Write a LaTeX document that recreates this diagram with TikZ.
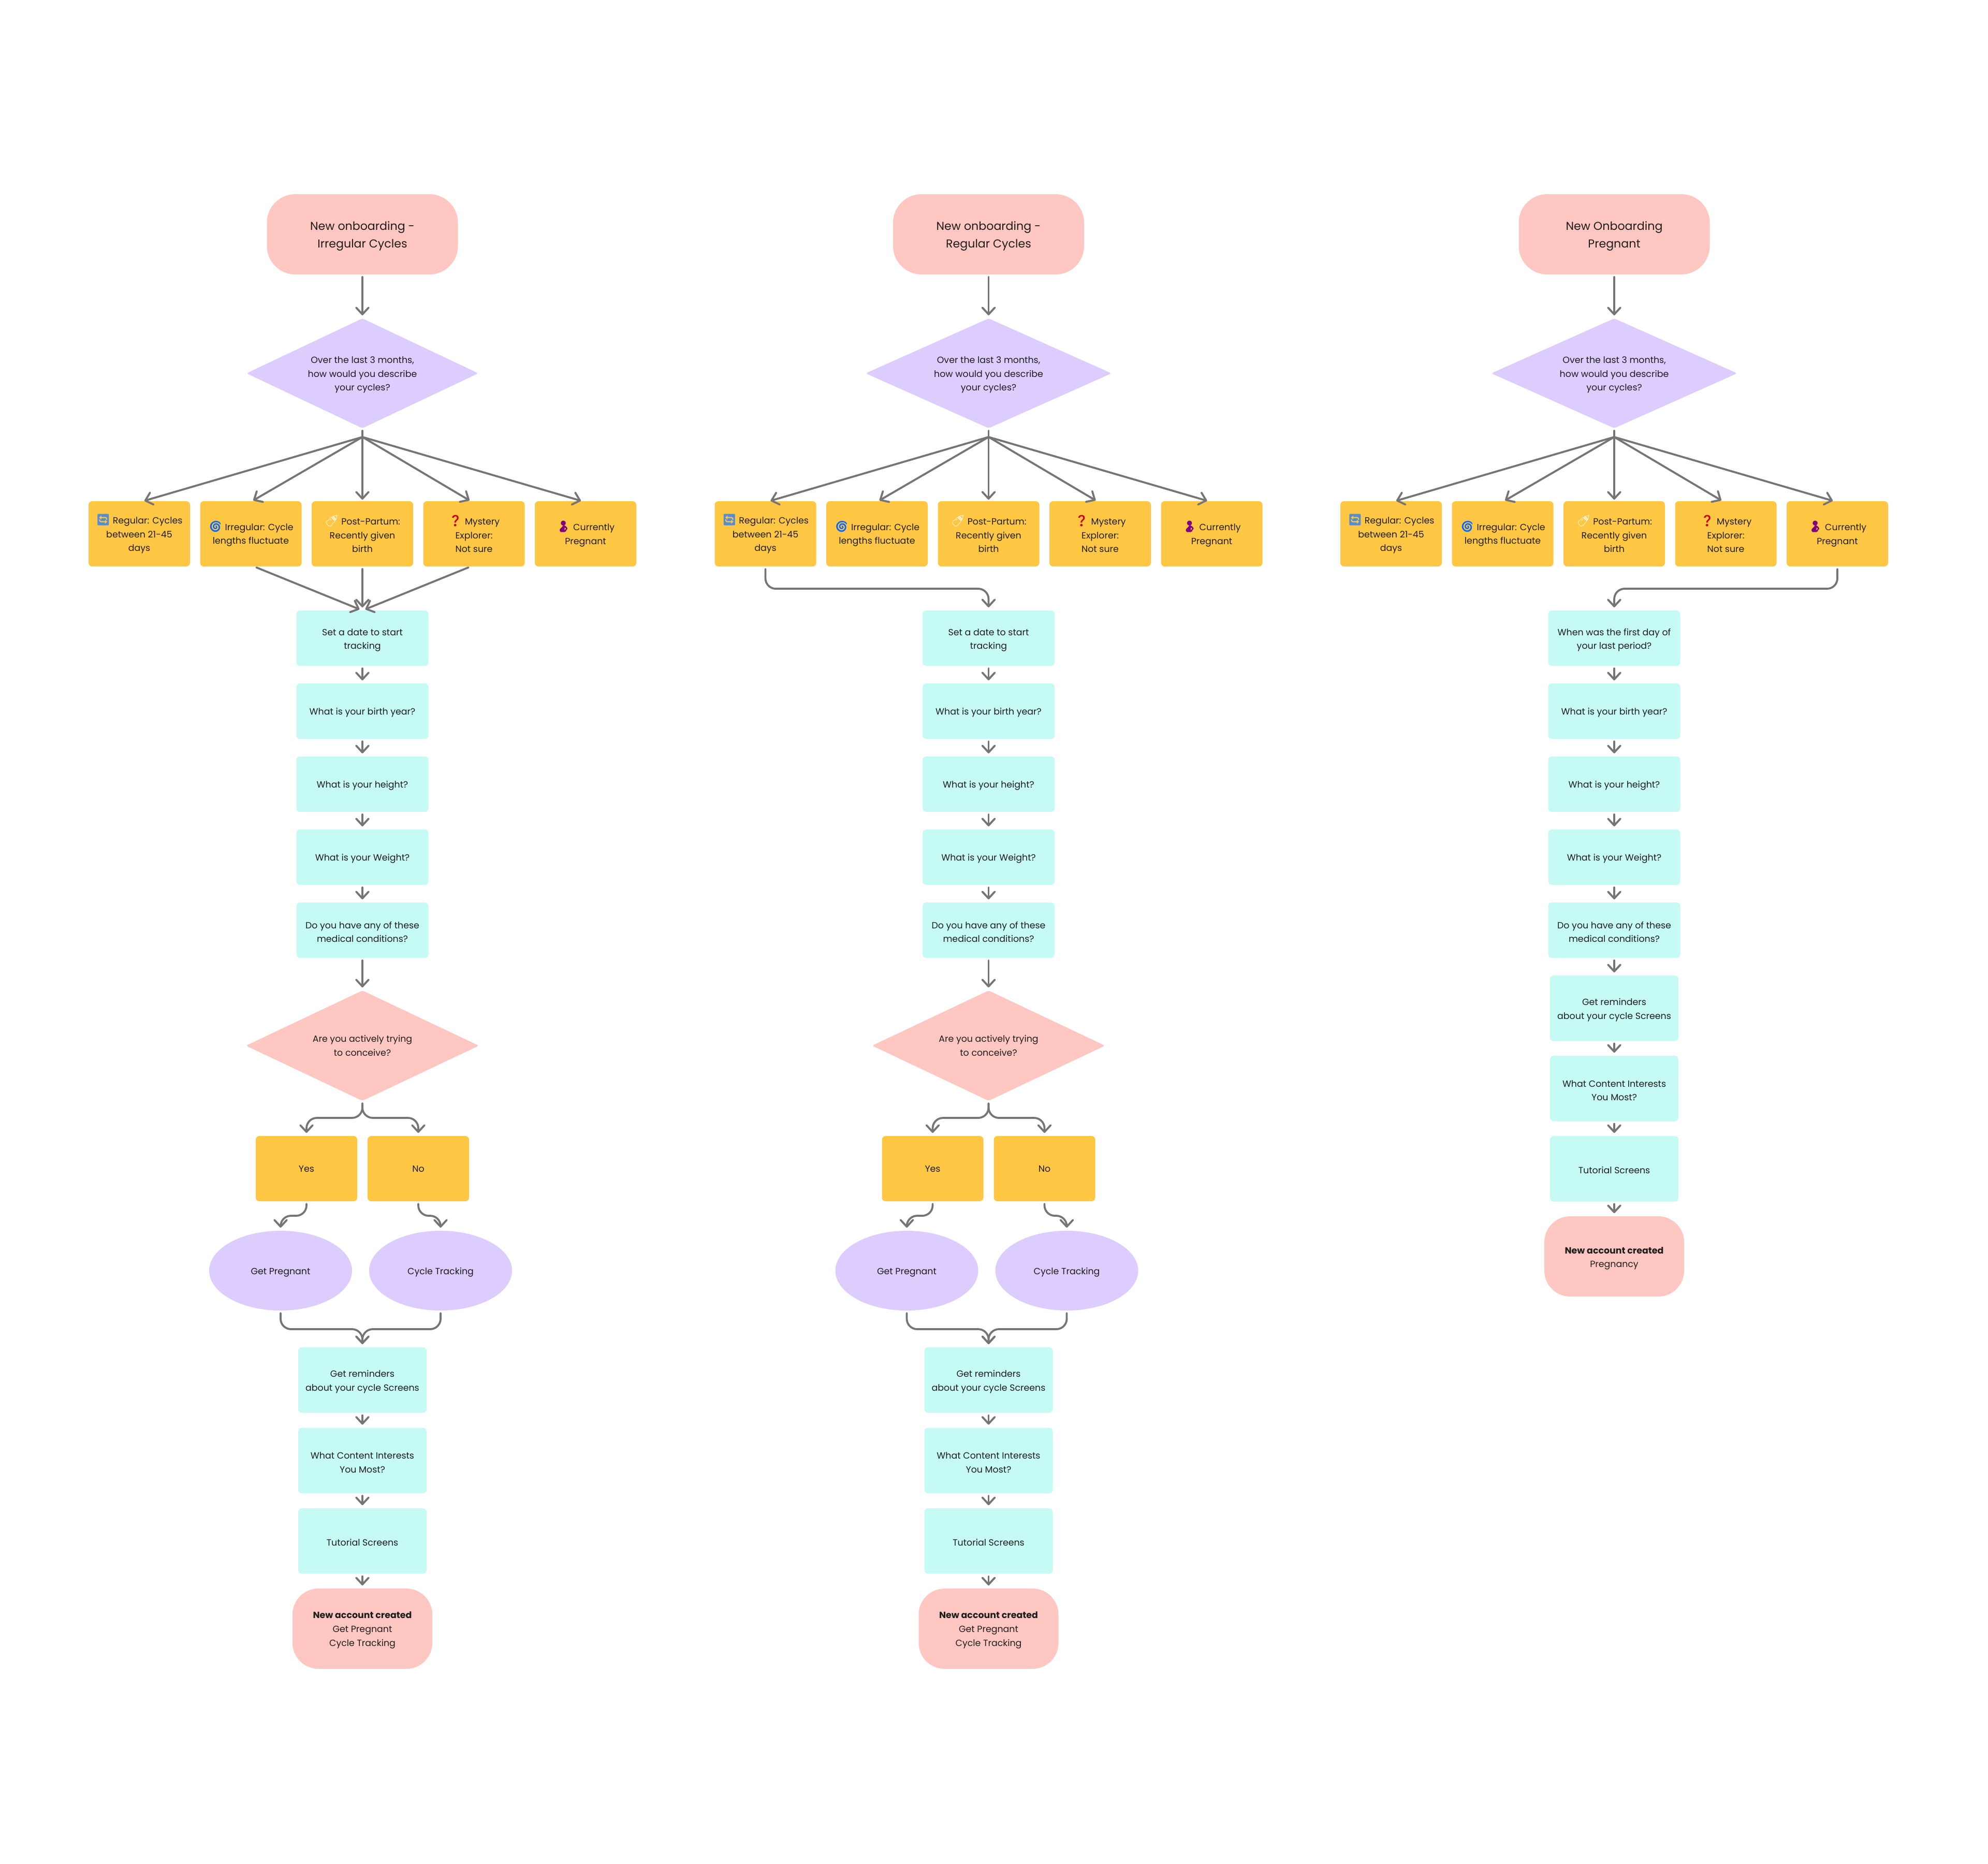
\documentclass[tikz,border=0pt]{standalone}
\usepackage{fontspec}
\setmainfont{Poppins}
\newfontfamily\emojifont[Scale=1.25]{Noto Emoji}
\usetikzlibrary{arrows.meta,positioning,shapes.geometric}
\definecolor{pinkfill}{HTML}{FFC7C2}
\definecolor{lilacfill}{HTML}{DDCCFE}
\definecolor{amberfill}{HTML}{FFC743}
\definecolor{tealfill}{HTML}{C5FAF5}
\definecolor{linegray}{HTML}{757575}
\definecolor{inkdark}{HTML}{1C1C1C}
\newcommand{\emo}[2]{{\color{#1}\emojifont #2}}
\newcommand{\smalltxt}{\fontsize{4.95}{7.55}\selectfont}

\begin{document}
\begin{tikzpicture}[
  node distance=3.4mm,
  every node/.style={text=inkdark, align=center, inner sep=0pt, outer sep=0pt, font=\smalltxt},
  ml/.style={text height=13.3pt},
  sl/.style={text height=, execute at begin node={\rule{0pt}{1.1em}}},
  pill/.style={text height=16.7pt, fill=pinkfill, rounded corners=5.5mm, minimum width=36.9mm, minimum height=15.5mm, font=\fontsize{6.3}{9.9}\selectfont},
  endpill/.style={text height=20.4pt, fill=pinkfill, rounded corners=5mm, minimum width=27mm, minimum height=15.5mm},
  ask/.style={text height=20.4pt, diamond, aspect=2.1, fill=lilacfill, rounded corners=.4mm, minimum width=47.5mm, minimum height=21.2mm},
  askpink/.style={ask, text height=11.2pt, fill=pinkfill, minimum width=45mm, minimum height=21.3mm},
  opt/.style={fill=amberfill, rounded corners=.7mm, minimum width=19.6mm, minimum height=12.6mm},
  tq/.style={sl, fill=tealfill, rounded corners=.7mm, minimum width=25.5mm, minimum height=10.7mm},
  tl/.style={ml, fill=tealfill, rounded corners=.7mm, minimum width=24.8mm, minimum height=12.65mm},
  oval/.style={sl, ellipse, fill=lilacfill, minimum width=27.6mm, minimum height=15.4mm},
  arr/.style={-{Straight Barb[length=1.3mm, width=2.4mm, round]}, line width=.38mm, linegray, line cap=round, shorten >=.6mm, shorten <=.5mm},
  fan/.style={arr, shorten <=0pt, shorten >=.3mm},
  stem/.style={arr, -, shorten >=0pt},
  bent/.style={arr, rounded corners=2mm}
]
\useasboundingbox (0,0) rectangle (38.4,-35.99);

% irregular
\node[pill] (s1) at (7.0,-4.525) {New onboarding -\\Irregular Cycles};
\node[ask, minimum width=44.8mm, below=8.5mm of s1] (q1) {Over the last 3 months,\\how would you describe\\your cycles?};
\node[opt, below=14.1mm of q1] (o13) {\emo{white}{🍼} Post-Partum:\\Recently given\\birth};
\node[opt, left=1.95mm of o13] (o12) {\emo{blue!60!cyan}{🌀} Irregular: Cycle\\lengths fluctuate};
\node[opt, left=1.95mm of o12] (o11) {\emo{cyan!50!blue!70}{🔄} Regular: Cycles\\between 21-45\\days};
\node[opt, right=1.95mm of o13] (o14) {\emo{red!80!black}{❓} Mystery\\Explorer:\\Not sure};
\node[opt, right=1.95mm of o14] (o15) {\emo{violet}{🤰} Currently\\Pregnant};
\node[tq, ml, below=8.5mm of o13] (t11) {Set a date to start\\tracking};
\node[tq, below=of t11] (t12) {What is your birth year?};
\node[tq, below=of t12] (t13) {What is your height?};
\node[tq, below=of t13] (t14) {What is your Weight?};
\node[tq, ml, below=of t14] (t15) {Do you have any of these\\medical conditions?};
\node[askpink, below=6.3mm of t15] (c1) {Are you actively trying\\to conceive?};
\node[opt, below=6.8mm of c1, xshift=-10.8mm] (y1) {Yes};
\node[opt, below=6.8mm of c1, xshift=10.8mm] (n1) {No};
\node[oval, below=5.7mm of y1, xshift=-5mm] (g1) {Get Pregnant};
\node[oval, below=5.7mm of n1, xshift=4.3mm] (k1) {Cycle Tracking};
\node[tl, below=7.1mm of g1, xshift=15.8mm] (r1) {Get reminders\\about your cycle Screens};
\node[tl, below=2.9mm of r1] (w1) {What Content Interests\\You Most?};
\node[tl, sl, below=2.9mm of w1] (u1) {Tutorial Screens};
\node[endpill, below=2.85mm of u1] (a1) {\textbf{New account created}\\Get Pregnant\\Cycle Tracking};
\coordinate[below=1.7mm of q1] (f1);
\draw[arr] (s1) -- (q1);
\draw[stem] (q1) -- (f1);
\draw[fan] (f1) -- ([xshift=.7mm]o11.north);
\draw[fan] (f1) -- ([xshift=.2mm]o12.north);
\draw[fan] (f1) -- (o13.north);
\draw[fan] (f1) -- ([xshift=-.6mm]o14.north);
\draw[fan] (f1) -- ([xshift=-.6mm]o15.north);
\draw[arr] ([xshift=.6mm]o12.south) -- (t11.north);
\draw[arr] (o13) -- (t11);
\draw[arr] ([xshift=-.6mm]o14.south) -- (t11.north);
\draw[arr] (t11) -- (t12);
\draw[arr] (t12) -- (t13);
\draw[arr] (t13) -- (t14);
\draw[arr] (t14) -- (t15);
\draw[arr] (t15) -- (c1);
\draw[bent] (c1.south) -- ++(0,-3.3mm) -| (y1.north);
\draw[bent] (c1.south) -- ++(0,-3.3mm) -| (n1.north);
\draw[bent] (y1.south) -- ++(0,-2.8mm) -| (g1.north);
\draw[bent] (n1.south) -- ++(0,-2.8mm) -| (k1.north);
\draw[bent] (g1.south) -- ++(0,-3.6mm) -| (r1.north);
\draw[bent] (k1.south) -- ++(0,-3.6mm) -| (r1.north);
\draw[arr] (r1) -- (w1);
\draw[arr] (w1) -- (u1);
\draw[arr] (u1) -- (a1);

% regular
\node[pill] (s2) at (19.095,-4.525) {New onboarding -\\Regular Cycles};
\node[ask, below=8.5mm of s2] (q2) {Over the last 3 months,\\how would you describe\\your cycles?};
\node[opt, below=14.1mm of q2] (o23) {\emo{white}{🍼} Post-Partum:\\Recently given\\birth};
\node[opt, left=1.95mm of o23] (o22) {\emo{blue!60!cyan}{🌀} Irregular: Cycle\\lengths fluctuate};
\node[opt, left=1.95mm of o22] (o21) {\emo{cyan!50!blue!70}{🔄} Regular: Cycles\\between 21-45\\days};
\node[opt, right=1.95mm of o23] (o24) {\emo{red!80!black}{❓} Mystery\\Explorer:\\Not sure};
\node[opt, right=1.95mm of o24] (o25) {\emo{violet}{🤰} Currently\\Pregnant};
\node[tq, ml, below=8.5mm of o23] (t21) {Set a date to start\\tracking};
\node[tq, below=of t21] (t22) {What is your birth year?};
\node[tq, below=of t22] (t23) {What is your height?};
\node[tq, below=of t23] (t24) {What is your Weight?};
\node[tq, ml, below=of t24] (t25) {Do you have any of these\\medical conditions?};
\node[askpink, below=6.3mm of t25] (c2) {Are you actively trying\\to conceive?};
\node[opt, below=6.8mm of c2, xshift=-10.8mm] (y2) {Yes};
\node[opt, below=6.8mm of c2, xshift=10.8mm] (n2) {No};
\node[oval, below=5.7mm of y2, xshift=-5mm] (g2) {Get Pregnant};
\node[oval, below=5.7mm of n2, xshift=4.3mm] (k2) {Cycle Tracking};
\node[tl, below=7.1mm of g2, xshift=15.8mm] (r2) {Get reminders\\about your cycle Screens};
\node[tl, below=2.9mm of r2] (w2) {What Content Interests\\You Most?};
\node[tl, sl, below=2.9mm of w2] (u2) {Tutorial Screens};
\node[endpill, below=2.85mm of u2] (a2) {\textbf{New account created}\\Get Pregnant\\Cycle Tracking};
\coordinate[below=1.7mm of q2] (f2);
\draw[arr] (s2) -- (q2);
\draw[stem] (q2) -- (f2);
\draw[fan] (f2) -- ([xshift=.7mm]o21.north);
\draw[fan] (f2) -- ([xshift=.2mm]o22.north);
\draw[fan] (f2) -- (o23.north);
\draw[fan] (f2) -- ([xshift=-.6mm]o24.north);
\draw[fan] (f2) -- ([xshift=-.6mm]o25.north);
\draw[bent] (o21.south) -- ++(0,-4.3mm) -| (t21.north);
\draw[arr] (t21) -- (t22);
\draw[arr] (t22) -- (t23);
\draw[arr] (t23) -- (t24);
\draw[arr] (t24) -- (t25);
\draw[arr] (t25) -- (c2);
\draw[bent] (c2.south) -- ++(0,-3.3mm) -| (y2.north);
\draw[bent] (c2.south) -- ++(0,-3.3mm) -| (n2.north);
\draw[bent] (y2.south) -- ++(0,-2.8mm) -| (g2.north);
\draw[bent] (n2.south) -- ++(0,-2.8mm) -| (k2.north);
\draw[bent] (g2.south) -- ++(0,-3.6mm) -| (r2.north);
\draw[bent] (k2.south) -- ++(0,-3.6mm) -| (r2.north);
\draw[arr] (r2) -- (w2);
\draw[arr] (w2) -- (u2);
\draw[arr] (u2) -- (a2);

% pregnant
\node[pill] (s3) at (31.18,-4.525) {New Onboarding\\Pregnant};
\node[ask, below=8.5mm of s3] (q3) {Over the last 3 months,\\how would you describe\\your cycles?};
\node[opt, below=14.1mm of q3] (o33) {\emo{white}{🍼} Post-Partum:\\Recently given\\birth};
\node[opt, left=1.95mm of o33] (o32) {\emo{blue!60!cyan}{🌀} Irregular: Cycle\\lengths fluctuate};
\node[opt, left=1.95mm of o32] (o31) {\emo{cyan!50!blue!70}{🔄} Regular: Cycles\\between 21-45\\days};
\node[opt, right=1.95mm of o33] (o34) {\emo{red!80!black}{❓} Mystery\\Explorer:\\Not sure};
\node[opt, right=1.95mm of o34] (o35) {\emo{violet}{🤰} Currently\\Pregnant};
\node[tq, ml, below=8.5mm of o33] (t31) {When was the first day of\\your last period?};
\node[tq, below=of t31] (t32) {What is your birth year?};
\node[tq, below=of t32] (t33) {What is your height?};
\node[tq, below=of t33] (t34) {What is your Weight?};
\node[tq, ml, below=of t34] (t35) {Do you have any of these\\medical conditions?};
\node[tl, below=3.4mm of t35] (r3) {Get reminders\\about your cycle Screens};
\node[tl, below=2.85mm of r3] (w3) {What Content Interests\\You Most?};
\node[tl, sl, below=2.85mm of w3] (u3) {Tutorial Screens};
\node[endpill, ml, below=2.85mm of u3] (a3) {\textbf{New account created}\\Pregnancy};
\coordinate[below=1.7mm of q3] (f3);
\draw[arr] (s3) -- (q3);
\draw[stem] (q3) -- (f3);
\draw[fan] (f3) -- ([xshift=.7mm]o31.north);
\draw[fan] (f3) -- ([xshift=.2mm]o32.north);
\draw[fan] (f3) -- (o33.north);
\draw[fan] (f3) -- ([xshift=-.6mm]o34.north);
\draw[fan] (f3) -- ([xshift=-.6mm]o35.north);
\draw[bent] (o35.south) -- ++(0,-4.3mm) -| (t31.north);
\draw[arr] (t31) -- (t32);
\draw[arr] (t32) -- (t33);
\draw[arr] (t33) -- (t34);
\draw[arr] (t34) -- (t35);
\draw[arr] (t35) -- (r3);
\draw[arr] (r3) -- (w3);
\draw[arr] (w3) -- (u3);
\draw[arr] (u3) -- (a3);
\end{tikzpicture}
\end{document}
